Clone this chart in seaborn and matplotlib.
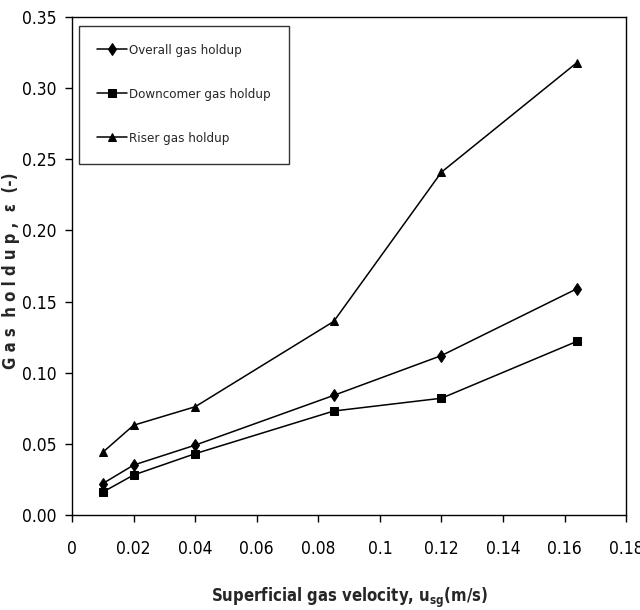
import matplotlib
matplotlib.use("Agg")
import matplotlib.pyplot as plt
import pandas as pd
import seaborn as sns
from matplotlib.ticker import FormatStrFormatter

usg = [0.01, 0.02, 0.04, 0.085, 0.12, 0.164]
overall = [0.022, 0.035, 0.049, 0.084, 0.112, 0.159]
downcomer = [0.016, 0.028, 0.043, 0.073, 0.082, 0.122]
riser = [0.044, 0.063, 0.076, 0.136, 0.241, 0.318]

series_names = ["Overall gas holdup", "Downcomer gas holdup", "Riser gas holdup"]
markers = {"Overall gas holdup": "d", "Downcomer gas holdup": "s", "Riser gas holdup": "^"}

df = pd.DataFrame({
    "usg": usg * 3,
    "holdup": overall + downcomer + riser,
    "series": sum([[n] * len(usg) for n in series_names], []),
})

sns.set_style("ticks")
plt.rcParams["font.family"] = ["DejaVu Sans"]
plt.rcParams["font.stretch"] = "condensed"

fig = plt.figure(figsize=(6.4, 6.1), dpi=100)
ax = fig.add_axes([0.1125, 0.156, 0.866, 0.816])

sns.lineplot(data=df, x="usg", y="holdup", hue="series", style="series",
             palette=["black"] * 3, markers=markers, dashes=False,
             markersize=6, linewidth=1.1, markeredgecolor="black", ax=ax)

ax.set_xlim(0, 0.18)
ax.set_ylim(0, 0.35)
ax.set_xticks([0, 0.02, 0.04, 0.06, 0.08, 0.1, 0.12, 0.14, 0.16, 0.18])
ax.set_xticklabels(["0", "0.02", "0.04", "0.06", "0.08", "0.1", "0.12", "0.14", "0.16", "0.18"])
ax.set_yticks([0, 0.05, 0.1, 0.15, 0.2, 0.25, 0.3, 0.35])
ax.yaxis.set_major_formatter(FormatStrFormatter("%.2f"))
ax.tick_params(labelsize=12.5, direction="out", length=5, width=1, colors="black", pad=6)
ax.tick_params(axis="x", pad=13)
for s in ax.spines.values():
    s.set_visible(True)
    s.set_color("black")
    s.set_linewidth(1)

ax.set_xlabel(r"Superficial gas velocity, u$_{\mathregular{sg}}$(m/s)", fontsize=12,
              fontweight="bold", labelpad=20)
ax.set_ylabel("G a s  h o l d u p ,  ε  (-)", fontsize=12, fontweight="bold")
ax.yaxis.set_label_coords(-0.094, 0.49)

leg = ax.legend(loc="upper left", bbox_to_anchor=(0.012, 0.983), frameon=True,
                fancybox=False, edgecolor="black", fontsize=9.5, handlelength=2.3,
                handletextpad=0.1, labelspacing=2.35, borderpad=1.4, borderaxespad=0)
leg.get_frame().set_linewidth(1)

fig.savefig("out.png", dpi=100)
